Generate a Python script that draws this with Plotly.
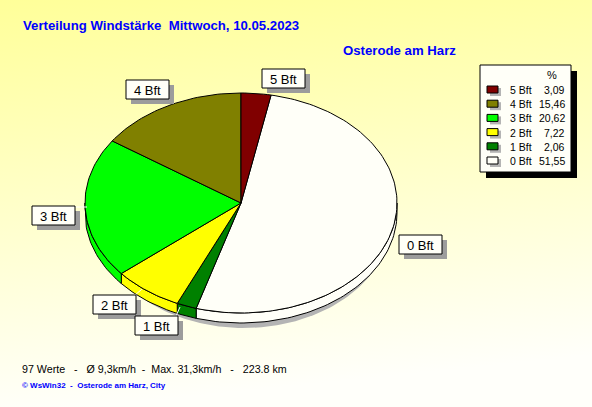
import base64
import numpy as np
import plotly.graph_objects as go

# ---------------- data ----------------
categories = ["5 Bft", "4 Bft", "3 Bft", "2 Bft", "1 Bft", "0 Bft"]
percent = [3.09, 15.46, 20.62, 7.22, 2.06, 51.55]
value_labels = ["3,09", "15,46", "20,62", "7,22", "2,06", "51,55"]
slice_colors = ["#800000", "#808000", "#00FF00", "#FFFF00", "#008000", "#FFFFF8"]
draw_order = ["0 Bft", "1 Bft", "2 Bft", "3 Bft", "4 Bft", "5 Bft"]  # clockwise

title_text = "Verteilung Windstärke\u00a0\u00a0Mittwoch, 10.05.2023"
subtitle_text = "Osterode am Harz"
stats_text = ("97 Werte\u00a0\u00a0\u00a0-\u00a0\u00a0\u00a0Ø 9,3km/h\u00a0\u00a0-\u00a0\u00a0Max. 31,3km/h"
              "\u00a0\u00a0\u00a0-\u00a0\u00a0\u00a0223.8 km")
footer_text = "© WsWin32\u00a0\u00a0-\u00a0\u00a0Osterode am Harz, City"

# ---------------- layout constants ----------------
W, H = 592, 407
START_DEG = 11.12
CX, CY, RX, RY, DEPTH = 241, 203, 156, 110, 10
FONT = "Liberation Sans, Arial, sans-serif"
BLUE = "#0000FF"

# label box positions (left, top) in pixels
label_pos = {"5 Bft": (262, 69), "4 Bft": (126, 80), "3 Bft": (32, 206),
             "2 Bft": (93, 295), "1 Bft": (135, 316), "0 Bft": (399, 235)}
BOX_W, BOX_H = 43, 19


def pt(theta_deg, dy=0.0, cx=CX, cy=CY, rx=RX, ry=RY):
    t = np.radians(theta_deg)
    return cx + rx * np.sin(t), cy - ry * np.cos(t) + dy


def arc(a, b, dy=0.0, n=None, **kw):
    if n is None:
        n = max(3, int(abs(b - a) / 1.5) + 2)
    th = np.linspace(a, b, n)
    xs, ys = [], []
    for t in th:
        x, y = pt(t, dy, **kw)
        xs.append(x)
        ys.append(y)
    return xs, ys


fig = go.Figure()


def poly(xs, ys, fill, line="black", width=1):
    fig.add_trace(go.Scatter(x=xs, y=ys, mode="lines", fill="toself", fillcolor=fill,
                             line=dict(color=line, width=width), hoverinfo="skip",
                             showlegend=False))


# shadow of the pie
sx, sy = arc(0, 360, n=240, cx=CX + 3, cy=CY + DEPTH + 5, rx=RX - 8, ry=RY)
poly(sx, sy, "#B4B4B4", line="#B4B4B4", width=0)

# compute slice angles
idx = {c: i for i, c in enumerate(categories)}
angles = []
cur = START_DEG
for c in draw_order:
    span = 360.0 * percent[idx[c]] / 100.0
    angles.append((c, cur, cur + span))
    cur += span

# side walls (front half)
for c, a, b in angles:
    lo, hi = max(a, 90), min(b, 270)
    if hi > lo:
        tx, ty = arc(lo, hi)
        bx, by = arc(hi, lo, dy=DEPTH)
        poly(tx + bx + [tx[0]], ty + by + [ty[0]], slice_colors[idx[c]])

# top faces
for c, a, b in angles:
    ax, ay = arc(a, b)
    poly([CX] + ax + [CX], [CY] + ay + [CY], slice_colors[idx[c]])

shapes = []
annotations = []

# leader lines (white)
shapes.append(dict(type="line", x0=75, y0=207, x1=87, y1=207, line=dict(color="white", width=1)))
shapes.append(dict(type="line", x0=134, y0=296, x1=142, y1=289, line=dict(color="white", width=1)))
shapes.append(dict(type="line", x0=176, y0=316, x1=180, y1=307, line=dict(color="white", width=1)))

# label boxes
for c in categories:
    x0, y0 = label_pos[c]
    shapes.append(dict(type="rect", x0=x0 + 5, y0=y0 + 5, x1=x0 + BOX_W + 5, y1=y0 + BOX_H + 5,
                       fillcolor="#9C9C9C", line=dict(width=0)))
    shapes.append(dict(type="rect", x0=x0, y0=y0, x1=x0 + BOX_W, y1=y0 + BOX_H,
                       fillcolor="#FFFFF8", line=dict(color="black", width=1)))
    annotations.append(dict(x=x0 + BOX_W / 2, y=y0 + BOX_H / 2 + 0.5, text=c, showarrow=False,
                            font=dict(family=FONT, size=13, color="black"),
                            xanchor="center", yanchor="middle"))

# legend box
LX0, LY0, LX1, LY1 = 480, 65, 571, 172
shapes.append(dict(type="rect", x0=LX0 + 6, y0=LY0 + 6, x1=LX1 + 6, y1=LY1 + 6,
                   fillcolor="black", line=dict(width=0)))
shapes.append(dict(type="rect", x0=LX0, y0=LY0, x1=LX1, y1=LY1,
                   fillcolor="#FFFFF8", line=dict(color="black", width=1)))
annotations.append(dict(x=552, y=75, text="%", showarrow=False,
                        font=dict(family=FONT, size=11, color="black"),
                        xanchor="center", yanchor="middle"))
ROW0, ROW_STEP = 90, 14.2
for i, c in enumerate(categories):
    ry = ROW0 + i * ROW_STEP
    shapes.append(dict(type="rect", x0=490, y0=ry - 2, x1=501, y1=ry + 6,
                       fillcolor="#B4B4B4", line=dict(width=0)))
    shapes.append(dict(type="rect", x0=487, y0=ry - 4, x1=498, y1=ry + 3,
                       fillcolor=slice_colors[i], line=dict(color="black", width=1)))
    annotations.append(dict(x=508, y=ry, text=c, showarrow=False,
                            font=dict(family=FONT, size=10.5, color="black"),
                            xanchor="left", yanchor="middle"))
    annotations.append(dict(x=567, y=ry, text=value_labels[i], showarrow=False,
                            font=dict(family=FONT, size=10.5, color="black"),
                            xanchor="right", yanchor="middle"))

# titles / texts
annotations.append(dict(x=21, y=25, text="<b>" + title_text + "</b>", showarrow=False,
                        font=dict(family=FONT, size=13.2, color=BLUE),
                        xanchor="left", yanchor="middle"))
annotations.append(dict(x=458, y=50, text="<b>" + subtitle_text + "</b>", showarrow=False,
                        font=dict(family=FONT, size=13.2, color=BLUE),
                        xanchor="right", yanchor="middle"))
annotations.append(dict(x=20, y=369, text=stats_text, showarrow=False,
                        font=dict(family=FONT, size=10.7, color="black"),
                        xanchor="left", yanchor="middle"))
annotations.append(dict(x=20, y=385, text="<b>" + footer_text + "</b>", showarrow=False,
                        font=dict(family=FONT, size=8, color=BLUE),
                        xanchor="left", yanchor="middle"))

# background gradient
svg = ('<svg xmlns="http://www.w3.org/2000/svg" width="592" height="407">'
       '<defs><linearGradient id="g" x1="0" y1="0" x2="0.15" y2="1">'
       '<stop offset="0" stop-color="#FFFF99"/><stop offset="1" stop-color="#FFFFFA"/>'
       '</linearGradient></defs><rect width="592" height="407" fill="url(#g)"/></svg>')
bg_src = "data:image/svg+xml;base64," + base64.b64encode(svg.encode()).decode()

fig.update_layout(
    width=W, height=H,
    margin=dict(l=0, r=0, t=0, b=0),
    paper_bgcolor="#FFFFD0",
    plot_bgcolor="rgba(0,0,0,0)",
    xaxis=dict(range=[0, W], visible=False, fixedrange=True),
    yaxis=dict(range=[H, 0], visible=False, fixedrange=True),
    shapes=shapes,
    annotations=annotations,
    images=[dict(source=bg_src, xref="paper", yref="paper", x=0, y=1, sizex=1, sizey=1,
                 xanchor="left", yanchor="top", sizing="stretch", layer="below")],
    showlegend=False,
)

fig.write_html("out.html", config={"displayModeBar": False},
               post_script="document.body.style.margin='0';document.body.style.overflow='hidden';")
